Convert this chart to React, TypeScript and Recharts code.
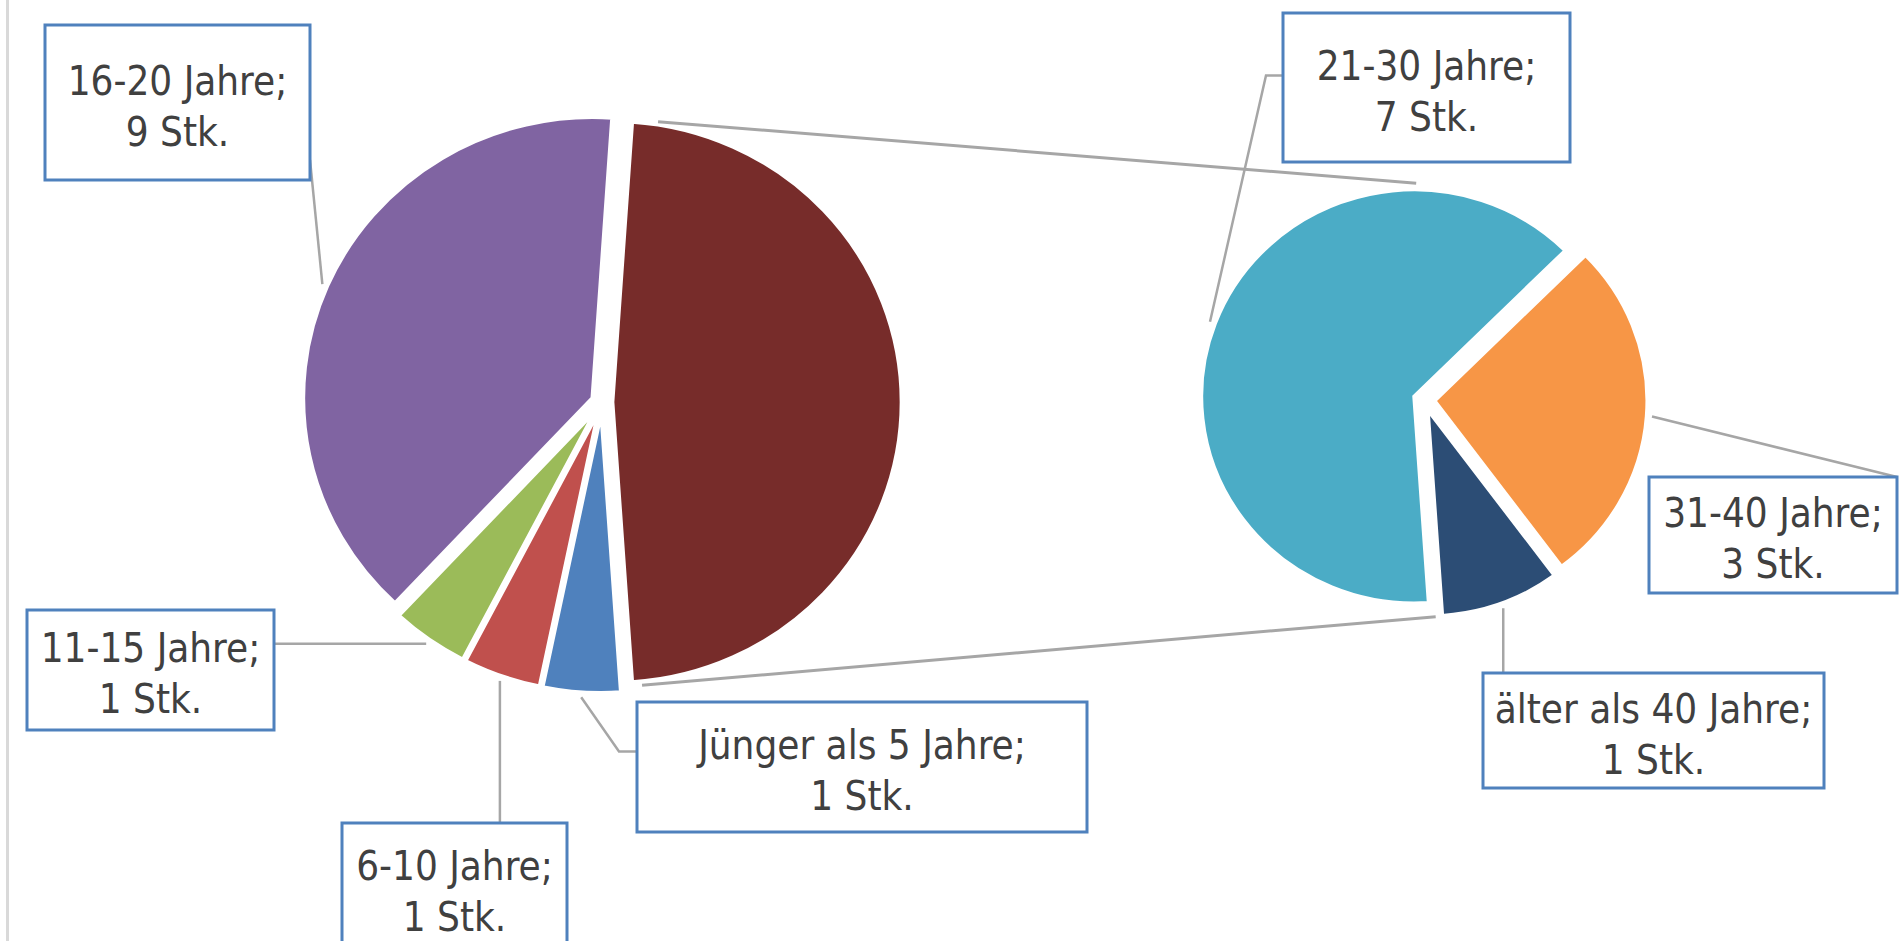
import React from 'react';
import { PieChart, Pie, Cell, Sector } from 'recharts';

// first pie: "other" slice (sum of second pie) first, then the small groups
const mainNames = ['Andere', 'Jünger als 5 Jahre', '6-10 Jahre', '11-15 Jahre', '16-20 Jahre'];
const mainValues = [11, 1, 1, 1, 9];
const mainColors = ['#772c2a', '#4f81bd', '#c0504d', '#9bbb59', '#8064a2'];

// second pie: breakdown of "Andere"
const subNames = ['21-30 Jahre', '31-40 Jahre', 'älter als 40 Jahre'];
const subValues = [7, 3, 1];
const subColors = ['#4bacc6', '#f79646', '#2c4d75'];

const unit = 'Stk.';

const mainData = mainNames.map((name, i) => ({ name, value: mainValues[i] }));
const subData = subNames.map((name, i) => ({ name, value: subValues[i] }));

const W = 1899;
const H = 941;
const FONT = "'DejaVu Sans Condensed', 'Liberation Sans Narrow', 'Open Sans', sans-serif";
const RAD = Math.PI / 180;
const EXPLODE = 10;
const STRETCH = 1.03; // the original picture is a touch wider than tall

const PIE1 = { cx: 602, cy: 402, r: 281 };
const PIE2 = { cx: 1424, cy: 400, r: 207 };

// label boxes placed by hand (as in the original workbook)
type Box = { x: number; y: number; w: number; h: number; attach?: [number, number]; elbow?: number };
const mainBoxes: (Box | null)[] = [
    null,
    { x: 637, y: 702, w: 450, h: 130, attach: [0, 0.38], elbow: 18 },
    { x: 342, y: 823, w: 225, h: 130 },
    { x: 27, y: 610, w: 247, h: 120 },
    { x: 45, y: 25, w: 265, h: 155, attach: [1, 0.87] },
];
const subBoxes: Box[] = [
    { x: 1283, y: 13, w: 287, h: 149, attach: [0, 0.42], elbow: 17 },
    { x: 1649, y: 477, w: 248, h: 116, attach: [1, 0] },
    { x: 1483, y: 673, w: 341, h: 115 },
];

const otherSpan = (mainValues[0] / mainValues.reduce((a, b) => a + b, 0)) * 360;

const polar = (cx: number, cy: number, r: number, angle: number, sx = 1) => ({
    x: cx + sx * r * Math.cos(-angle * RAD),
    y: cy + r * Math.sin(-angle * RAD),
});

const ExplodedSector = (props: any) => {
    const p = polar(props.cx, props.cy, EXPLODE, props.midAngle);
    return (
        <g transform={`translate(${props.cx},0) scale(${STRETCH},1) translate(${-props.cx},0)`}>
            <Sector {...props} cx={p.x} cy={p.y} />
        </g>
    );
};

const LabelBox = ({ box, anchor, name, value }: { box: Box; anchor: { x: number; y: number }; name: string; value: number }) => {
    let end: { x: number; y: number };
    if (box.attach) {
        end = { x: box.x + box.w * box.attach[0], y: box.y + box.h * box.attach[1] };
    } else {
        end = {
            x: Math.min(Math.max(anchor.x, box.x), box.x + box.w),
            y: Math.min(Math.max(anchor.y, box.y), box.y + box.h),
        };
    }
    const pts = box.elbow
        ? `${anchor.x},${anchor.y} ${end.x - box.elbow},${end.y} ${end.x},${end.y}`
        : `${anchor.x},${anchor.y} ${end.x},${end.y}`;
    const mid = box.y + box.h / 2;
    return (
        <g>
            <polyline points={pts} fill="none" stroke="#a6a6a6" strokeWidth={2.5} />
            <rect x={box.x} y={box.y} width={box.w} height={box.h} fill="#fff" stroke="#4f81bd" strokeWidth={3} />
            <text textAnchor="middle" fill="#404040" fontSize={40} fontFamily={FONT}>
                <tspan x={box.x + box.w / 2} y={mid - 8}>{name};</tspan>
                <tspan x={box.x + box.w / 2} y={mid + 43}>{value} {unit}</tspan>
            </text>
        </g>
    );
};

const renderMainLabel = (props: any) => {
    const { index, cx, cy, outerRadius, midAngle, startAngle, endAngle, name, value } = props;
    if (index === 0) {
        // connector lines from the "other" slice to the second pie
        const off = polar(cx, cy, EXPLODE, midAngle, STRETCH);
        const a = polar(off.x, off.y, outerRadius, startAngle, STRETCH);
        const b = polar(off.x, off.y, outerRadius, endAngle, STRETCH);
        const t = polar(PIE2.cx, PIE2.cy, PIE2.r + EXPLODE, 92, STRETCH);
        const u = polar(PIE2.cx, PIE2.cy, PIE2.r + EXPLODE, -87, STRETCH);
        return (
            <g>
                <line x1={a.x + 26} y1={a.y} x2={t.x} y2={t.y} stroke="#a6a6a6" strokeWidth={3} />
                <line x1={b.x + 10} y1={b.y + 3} x2={u.x} y2={u.y} stroke="#a6a6a6" strokeWidth={3} />
            </g>
        );
    }
    const box = mainBoxes[index];
    if (!box) return null;
    const anchor = polar(cx, cy, outerRadius + EXPLODE + 5, midAngle, STRETCH);
    return <LabelBox box={box} anchor={anchor} name={name} value={value} />;
};

const renderSubLabel = (props: any) => {
    const { index, cx, cy, outerRadius, midAngle, name, value } = props;
    const anchor = polar(cx, cy, outerRadius + EXPLODE + 5, midAngle, STRETCH);
    return <LabelBox box={subBoxes[index]} anchor={anchor} name={name} value={value} />;
};

export default function App() {
    return (
        <div style={{ position: 'absolute', left: 0, top: 0, width: W, height: H, background: '#fff', overflow: 'hidden' }}>
            <div style={{ position: 'absolute', left: 6, top: 0, width: 3, height: H, background: '#d9d9d9' }} />
            <PieChart width={W} height={H} margin={{ top: 0, right: 0, bottom: 0, left: 0 }}>
                <Pie
                    data={mainData}
                    dataKey="value"
                    nameKey="name"
                    cx={PIE1.cx}
                    cy={PIE1.cy}
                    outerRadius={PIE1.r}
                    startAngle={otherSpan / 2}
                    endAngle={otherSpan / 2 - 360}
                    stroke="#fff"
                    strokeWidth={4}
                    shape={ExplodedSector}
                    label={renderMainLabel}
                    labelLine={false}
                    isAnimationActive={false}
                >
                    {mainData.map((d, i) => <Cell key={d.name} fill={mainColors[i]} />)}
                </Pie>
                <Pie
                    data={subData}
                    dataKey="value"
                    nameKey="name"
                    cx={PIE2.cx}
                    cy={PIE2.cy}
                    outerRadius={PIE2.r}
                    startAngle={-otherSpan / 2}
                    endAngle={-otherSpan / 2 - 360}
                    stroke="#fff"
                    strokeWidth={4}
                    shape={ExplodedSector}
                    label={renderSubLabel}
                    labelLine={false}
                    isAnimationActive={false}
                >
                    {subData.map((d, i) => <Cell key={d.name} fill={subColors[i]} />)}
                </Pie>
            </PieChart>
        </div>
    );
}
